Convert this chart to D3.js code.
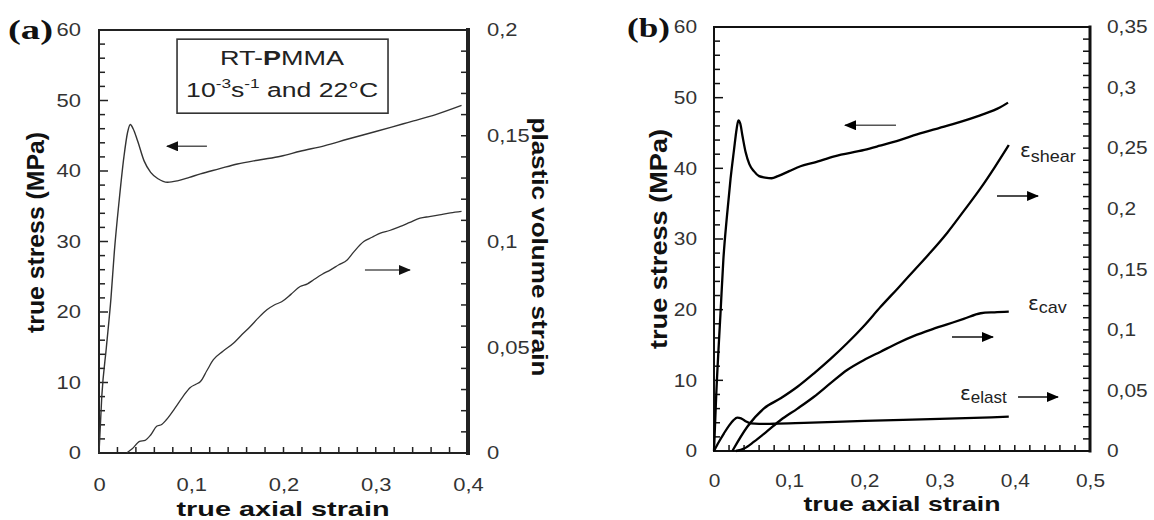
<!DOCTYPE html>
<html><head><meta charset="utf-8">
<script src="https://cdn.jsdelivr.net/npm/d3@7"></script>
<style>body{margin:0;background:#fff} svg{display:block}</style>
</head><body>
<svg id="c" width="1154" height="520"></svg>
<script>
// ---------- Panel (a) data ----------
const stressA_strain = [0, 0.003, 0.008, 0.013, 0.0166, 0.022, 0.027, 0.031, 0.034, 0.037, 0.0418, 0.049, 0.056, 0.064, 0.0743, 0.085, 0.098, 0.11, 0.13, 0.15, 0.175, 0.197, 0.218, 0.245, 0.269, 0.3, 0.33, 0.341, 0.365, 0.393];
const stressA_value  = [0, 8, 15, 22, 28.5, 36, 42, 45.5, 46.6, 46.0, 44.3, 41.4, 39.8, 38.9, 38.4, 38.6, 39.1, 39.6, 40.3, 41.0, 41.6, 42.1, 42.8, 43.6, 44.5, 45.6, 46.7, 47.1, 48.0, 49.3];
const volA_strain = [0.030, 0.036, 0.044, 0.050, 0.056, 0.0625, 0.068, 0.073, 0.082, 0.091, 0.099, 0.105, 0.11, 0.117, 0.124, 0.134, 0.146, 0.155, 0.164, 0.173, 0.182, 0.19, 0.198, 0.208, 0.218, 0.226, 0.233, 0.242, 0.251, 0.26, 0.269, 0.276, 0.287, 0.296, 0.305, 0.315, 0.326, 0.337, 0.348, 0.358, 0.369, 0.381, 0.393];
const volA_value  = [0, 0.002, 0.0055, 0.006, 0.0085, 0.0126, 0.0135, 0.0157, 0.021, 0.0267, 0.031, 0.0325, 0.0338, 0.039, 0.0441, 0.048, 0.052, 0.056, 0.0598, 0.064, 0.0677, 0.070, 0.0715, 0.075, 0.0787, 0.080, 0.082, 0.0845, 0.0866, 0.089, 0.0913, 0.095, 0.100, 0.102, 0.104, 0.1052, 0.107, 0.109, 0.111, 0.1118, 0.1126, 0.1135, 0.1142];

// ---------- Panel (b) data ----------
const stressB_strain = [0, 0.003, 0.0089, 0.0124, 0.017, 0.022, 0.0266, 0.03, 0.0324, 0.035, 0.038, 0.042, 0.047, 0.053, 0.06, 0.068, 0.0767, 0.085, 0.1, 0.115, 0.133, 0.16, 0.2, 0.2207, 0.247, 0.27, 0.3094, 0.354, 0.38, 0.391];
const stressB_value  = [0, 8, 20, 27, 33, 38.5, 42.6, 45.5, 46.8, 46.3, 44.5, 42.3, 40.6, 39.6, 38.9, 38.7, 38.6, 38.9, 39.6, 40.3, 40.8, 41.7, 42.6, 43.2, 44.0, 44.8, 46.0, 47.5, 48.6, 49.3];
const shearB_strain = [0.0244, 0.0443, 0.0665, 0.0887, 0.111, 0.133, 0.155, 0.177, 0.199, 0.2216, 0.244, 0.266, 0.288, 0.310, 0.332, 0.3546, 0.373, 0.392];
const shearB_value  = [0, 0.020, 0.0352, 0.0435, 0.053, 0.0641, 0.076, 0.0889, 0.103, 0.119, 0.134, 0.149, 0.164, 0.180, 0.198, 0.217, 0.234, 0.2526];
const cavB_strain = [0.029, 0.04, 0.0532, 0.07, 0.0887, 0.111, 0.133, 0.155, 0.177, 0.199, 0.2216, 0.244, 0.266, 0.288, 0.310, 0.332, 0.3546, 0.373, 0.392];
const cavB_value  = [0, 0.002, 0.0077, 0.016, 0.0256, 0.035, 0.0448, 0.056, 0.0669, 0.075, 0.082, 0.089, 0.095, 0.100, 0.1045, 0.109, 0.1137, 0.1145, 0.115];
const elastB_strain = [0, 0.006, 0.0133, 0.02, 0.026, 0.031, 0.036, 0.042, 0.0488, 0.06, 0.08, 0.12, 0.2, 0.3, 0.392];
const elastB_value  = [0, 0.007, 0.0146, 0.021, 0.0255, 0.0275, 0.027, 0.0245, 0.0228, 0.0224, 0.0225, 0.0232, 0.0248, 0.0265, 0.0283];

// ---------- Ticks ----------
const stressTicks = [0, 10, 20, 30, 40, 50, 60];
const stressTickLabels = ["0", "10", "20", "30", "40", "50", "60"];
const strainTicksA = [0, 0.1, 0.2, 0.3, 0.4];
const strainTickLabelsA = ["0", "0,1", "0,2", "0,3", "0,4"];
const volTicksA = [0, 0.05, 0.1, 0.15, 0.2];
const volTickLabelsA = ["0", "0,05", "0,1", "0,15", "0,2"];
const strainTicksB = [0, 0.1, 0.2, 0.3, 0.4, 0.5];
const strainTickLabelsB = ["0", "0,1", "0,2", "0,3", "0,4", "0,5"];
const rightTicksB = [0, 0.05, 0.1, 0.15, 0.2, 0.25, 0.3, 0.35];
const rightTickLabelsB = ["0", "0,05", "0,1", "0,15", "0,2", "0,25", "0,3", "0,35"];

const svg = d3.select("#c");
const defs = svg.append("defs");
function marker(id, color) {
  defs.append("marker").attr("id", id).attr("markerUnits", "userSpaceOnUse")
    .attr("viewBox", "0 0 12 10").attr("refX", 11).attr("refY", 5)
    .attr("markerWidth", 12).attr("markerHeight", 10).attr("orient", "auto")
    .append("path").attr("d", "M0,0 L12,5 L0,10 Z").attr("fill", color);
}
marker("arrA", "#111");
marker("arrB", "#000");

function stretch(sel, f) {
  sel.each(function () {
    const L = this.getComputedTextLength();
    d3.select(this).attr("textLength", L * f).attr("lengthAdjust", "spacingAndGlyphs");
  });
}
function fixLen(sel, L) {
  sel.attr("textLength", L).attr("lengthAdjust", "spacingAndGlyphs");
}

function panel(o) {
  const g = svg.append("g");
  const x = d3.scaleLinear().domain([0, o.xMax]).range([o.left, o.right]);
  const yL = d3.scaleLinear().domain([0, 60]).range([o.bottom, o.top]);
  const yR = d3.scaleLinear().domain([0, o.rMax]).range([o.bottom, o.top]);
  const tickCol = o.axisColor;

  // minor tick positions (every 0.02 strain, 2 MPa, 0.01 right axis)
  const minorX = d3.range(0, Math.round(o.xMax / 0.02) + 1).map(i => i * 0.02);
  const minorL = d3.range(0, 31).map(i => i * 2);
  const minorR = d3.range(0, Math.round(o.rMax / 0.01) + 1).map(i => i * 0.01);

  // tick marks (inward)
  const tk = g.append("g").attr("stroke", tickCol).attr("stroke-width", 1.5);
  tk.selectAll(".tx").data(minorX).join("line").attr("class", "tx")
    .attr("x1", d => x(d)).attr("x2", d => x(d)).attr("y1", o.bottom).attr("y2", o.bottom - 6);
  tk.selectAll(".tl").data(minorL).join("line").attr("class", "tl")
    .attr("x1", o.left).attr("x2", d => o.left + (d % 10 === 0 ? 9 : 6)).attr("y1", d => yL(d)).attr("y2", d => yL(d));
  tk.selectAll(".tr").data(minorR).join("line").attr("class", "tr")
    .attr("x1", o.right).attr("x2", o.right - 7).attr("y1", d => yR(d)).attr("y2", d => yR(d));

  // labels via d3 axes
  const lg = g.append("g");
  lg.append("g").attr("transform", `translate(0,${o.bottom})`)
    .call(d3.axisBottom(x).tickValues(o.xTicks).tickSize(0).tickPadding(o.xPad)
      .tickFormat((d, i) => o.xLabels[i]));
  lg.append("g").attr("transform", `translate(${o.left},0)`)
    .call(d3.axisLeft(yL).tickValues(stressTicks).tickSize(0).tickPadding(o.lPad)
      .tickFormat((d, i) => stressTickLabels[i]));
  lg.append("g").attr("transform", `translate(${o.right},0)`)
    .call(d3.axisRight(yR).tickValues(o.rTicks).tickSize(0).tickPadding(o.rPad)
      .tickFormat((d, i) => o.rLabels[i]));
  lg.selectAll(".domain").remove();
  lg.selectAll(".tick line").remove();
  lg.selectAll(".tick text").attr("font-family", "'Liberation Sans', Arial, sans-serif")
    .attr("font-size", 18).attr("fill", o.textColor);
  stretch(lg.selectAll(".tick text"), o.tickStretch);

  // frame
  const fr = g.append("g").attr("stroke", tickCol).attr("stroke-linecap", "square");
  fr.append("line").attr("x1", o.left).attr("x2", o.right).attr("y1", o.top).attr("y2", o.top).attr("stroke-width", 2);
  fr.append("line").attr("x1", o.left).attr("x2", o.right).attr("y1", o.bottom).attr("y2", o.bottom).attr("stroke-width", 2);
  fr.append("line").attr("x1", o.left).attr("x2", o.left).attr("y1", o.top).attr("y2", o.bottom).attr("stroke-width", 2);
  fr.append("line").attr("x1", o.right).attr("x2", o.right).attr("y1", o.top).attr("y2", o.bottom).attr("stroke-width", o.rightW);

  return { g, x, yL, yR };
}

const bold = "'Liberation Sans', Arial, sans-serif";

// ================= Panel (a) =================
const A = panel({
  left: 99, right: 468, top: 30, bottom: 453, xMax: 0.4, rMax: 0.2,
  xTicks: strainTicksA, xLabels: strainTickLabelsA,
  rTicks: volTicksA, rLabels: volTickLabelsA,
  xPad: 25, lPad: 18, rPad: 19, tickStretch: 1.22, rightW: 4,
  axisColor: "#222", textColor: "#333"
});
const lineA = (xs, ys, yS) => d3.line().x(d => A.x(d[0])).y(d => yS(d[1])).curve(d3.curveMonotoneX)(d3.zip(xs, ys));
A.g.append("path").attr("d", lineA(stressA_strain, stressA_value, A.yL))
  .attr("fill", "none").attr("stroke", "#333").attr("stroke-width", 1.4);
A.g.append("path").attr("d", lineA(volA_strain, volA_value, A.yR))
  .attr("fill", "none").attr("stroke", "#333").attr("stroke-width", 1.3);

// arrows
A.g.append("line").attr("x1", A.x(0.117)).attr("x2", A.x(0.0737)).attr("y1", A.yL(43.5)).attr("y2", A.yL(43.5))
  .attr("stroke", "#555").attr("stroke-width", 1.5).attr("marker-end", "url(#arrA)");
A.g.append("line").attr("x1", A.x(0.2883)).attr("x2", A.x(0.337)).attr("y1", A.yR(0.0865)).attr("y2", A.yR(0.0865))
  .attr("stroke", "#555").attr("stroke-width", 1.5).attr("marker-end", "url(#arrA)");

// legend box
A.g.append("rect").attr("x", A.x(0.0846)).attr("y", A.yL(58.7))
  .attr("width", A.x(0.3133) - A.x(0.0846)).attr("height", A.yL(48.2) - A.yL(58.7))
  .attr("fill", "#fff").attr("stroke", "#333").attr("stroke-width", 1.6);
const lt1 = A.g.append("text").attr("x", A.x(0.1985)).attr("y", 65).attr("text-anchor", "middle")
  .attr("font-family", bold).attr("font-size", 20).attr("fill", "#222");
lt1.append("tspan").text("RT-");
lt1.append("tspan").attr("font-weight", "bold").text("P");
lt1.append("tspan").text("MMA");
fixLen(lt1, 124);
const lt2 = A.g.append("text").attr("x", A.x(0.1985)).attr("y", 97).attr("text-anchor", "middle")
  .attr("font-family", bold).attr("font-size", 20).attr("fill", "#222");
lt2.append("tspan").text("10");
lt2.append("tspan").attr("font-size", 13).attr("dy", -9).text("-3");
lt2.append("tspan").attr("dy", 9).text("s");
lt2.append("tspan").attr("font-size", 13).attr("dy", -9).text("-1");
lt2.append("tspan").attr("dy", 9).text(" and 22°C");
fixLen(lt2, 192);

// labels
fixLen(A.g.append("text").attr("x", 283).attr("y", 516).attr("text-anchor", "middle")
  .attr("font-family", bold).attr("font-weight", "bold").attr("font-size", 21).attr("fill", "#111")
  .text("true axial strain"), 213);
fixLen(A.g.append("text").attr("transform", "translate(44,232.5) rotate(-90)").attr("text-anchor", "middle")
  .attr("font-family", bold).attr("font-weight", "bold").attr("font-size", 23).attr("fill", "#111")
  .text("true stress (MPa)"), 201);
fixLen(A.g.append("text").attr("transform", "translate(532,247) rotate(90)").attr("text-anchor", "middle")
  .attr("font-family", bold).attr("font-weight", "bold").attr("font-size", 22).attr("fill", "#111")
  .text("plastic volume strain"), 259);
fixLen(A.g.append("text").attr("x", 8).attr("y", 39).attr("font-family", "'Liberation Serif', 'Times New Roman', serif")
  .attr("font-weight", "bold").attr("font-size", 28).attr("fill", "#111").text("(a)"), 45);

// ================= Panel (b) =================
const B = panel({
  left: 714, right: 1090, top: 27, bottom: 451, xMax: 0.5, rMax: 0.35,
  xTicks: strainTicksB, xLabels: strainTickLabelsB,
  rTicks: rightTicksB, rLabels: rightTickLabelsB,
  xPad: 23, lPad: 17, rPad: 17, tickStretch: 1.16, rightW: 3,
  axisColor: "#111", textColor: "#333"
});
const lineB = (xs, ys, yS) => d3.line().x(d => B.x(d[0])).y(d => yS(d[1])).curve(d3.curveMonotoneX)(d3.zip(xs, ys));
[[stressB_strain, stressB_value, B.yL], [shearB_strain, shearB_value, B.yR],
 [cavB_strain, cavB_value, B.yR], [elastB_strain, elastB_value, B.yR]].forEach(s => {
  B.g.append("path").attr("d", lineB(s[0], s[1], s[2]))
    .attr("fill", "none").attr("stroke", "#000").attr("stroke-width", 2.3).attr("stroke-linejoin", "round");
});

// arrows
const arrowsB = [
  { x1: 0.242, x2: 0.1742, y: 46.1, s: "L", c: "#555" },
  { x1: 0.3763, x2: 0.4309, y: 0.2105, s: "R", c: "#111" },
  { x1: 0.3165, x2: 0.371, y: 0.0941, s: "R", c: "#111" },
  { x1: 0.4043, x2: 0.4574, y: 0.0446, s: "R", c: "#111" }
];
arrowsB.forEach(a => {
  const ys = a.s === "L" ? B.yL : B.yR;
  B.g.append("line").attr("x1", B.x(a.x1)).attr("x2", B.x(a.x2)).attr("y1", ys(a.y)).attr("y2", ys(a.y))
    .attr("stroke", a.c).attr("stroke-width", 1.6).attr("marker-end", "url(#arrB)");
});

// epsilon labels
const epsLabels = [
  { sub: "shear", x: 0.4069, y: 0.2427, dy: 5, subLen: 45 },
  { sub: "cav", x: 0.4176, y: 0.1164, dy: 3, subLen: 28 },
  { sub: "elast", x: 0.3271, y: 0.0421, dy: 3, subLen: 36 }
];
epsLabels.forEach(e => {
  const t = B.g.append("text").attr("x", B.x(e.x)).attr("y", B.yR(e.y))
    .attr("font-family", "'DejaVu Sans', 'Liberation Sans', sans-serif").attr("fill", "#222");
  t.append("tspan").attr("font-size", 20).text("ε");
  t.append("tspan").attr("font-family", "'Liberation Sans', Arial, sans-serif").attr("font-size", 17)
    .attr("dy", e.dy).attr("textLength", e.subLen).attr("lengthAdjust", "spacingAndGlyphs").text(e.sub);
});

fixLen(B.g.append("text").attr("x", 902).attr("y", 511).attr("text-anchor", "middle")
  .attr("font-family", bold).attr("font-weight", "bold").attr("font-size", 21).attr("fill", "#111")
  .text("true axial strain"), 197);
fixLen(B.g.append("text").attr("transform", "translate(667,239) rotate(-90)").attr("text-anchor", "middle")
  .attr("font-family", bold).attr("font-weight", "bold").attr("font-size", 24).attr("fill", "#111")
  .text("true stress (MPa)"), 220);
fixLen(B.g.append("text").attr("x", 627).attr("y", 37).attr("font-family", "'Liberation Serif', 'Times New Roman', serif")
  .attr("font-weight", "bold").attr("font-size", 28).attr("fill", "#111").text("(b)"), 43);
</script>
</body></html>
